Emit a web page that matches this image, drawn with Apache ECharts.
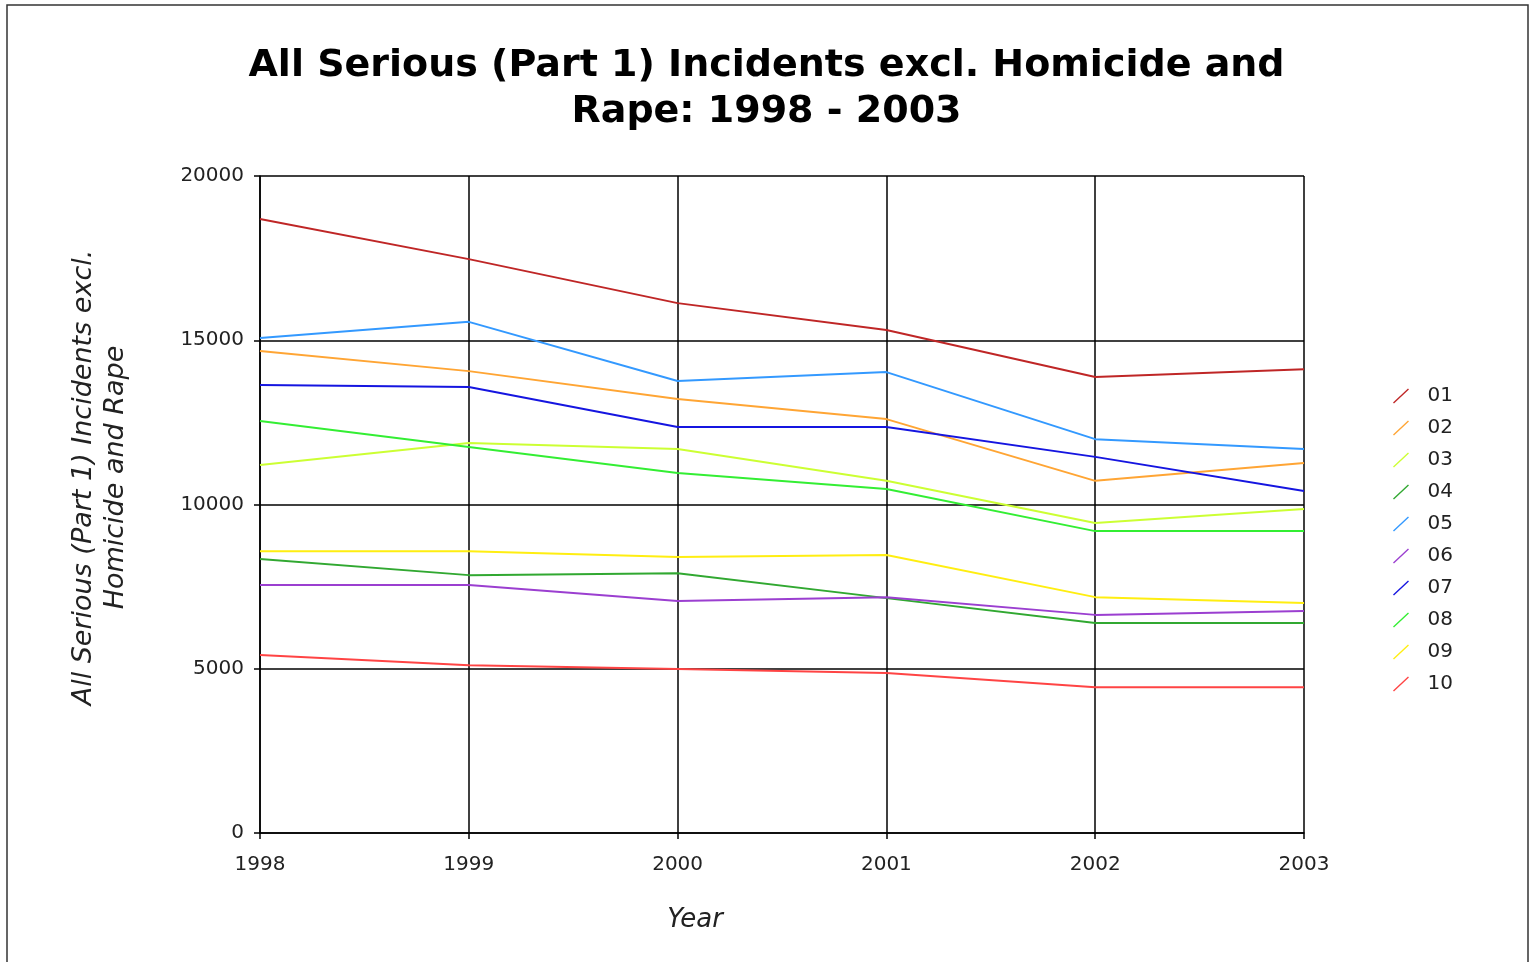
<!DOCTYPE html>
<html>
<head>
<meta charset="utf-8">
<title>All Serious (Part 1) Incidents excl. Homicide and Rape</title>
<script src="https://cdn.jsdelivr.net/npm/echarts@6/dist/echarts.min.js"></script>
<style>
  html, body { margin: 0; padding: 0; background: #fff; }
  #chart { width: 1533px; height: 962px; }
</style>
</head>
<body>
<div id="chart"></div>
<script>
// 年份（横轴）
const years = ['1998', '1999', '2000', '2001', '2002', '2003']
// 纵轴刻度
const yTicks = [0, 5000, 10000, 15000, 20000]

// 各区数据
const d01 = [18690, 17470, 16130, 15310, 13880, 14120]
const d02 = [14670, 14060, 13210, 12600, 10720, 11260]
const d03 = [11200, 11870, 11690, 10720, 9440, 9860]
const d04 = [8340, 7850, 7910, 7150, 6390, 6390]
const d05 = [15070, 15560, 13760, 14030, 11990, 11690]
const d06 = [7550, 7550, 7060, 7180, 6640, 6760]
const d07 = [13640, 13580, 12360, 12360, 11450, 10410]
const d08 = [12540, 11750, 10960, 10470, 9190, 9190]
const d09 = [8580, 8580, 8400, 8460, 7180, 7000]
const d10 = [5420, 5110, 4990, 4870, 4440, 4440]

const seriesNames = ['01', '02', '03', '04', '05', '06', '07', '08', '09', '10']
const seriesData = [d01, d02, d03, d04, d05, d06, d07, d08, d09, d10]
const seriesColors = ['#bf2626', '#ffa534', '#ccff33', '#31a831', '#3399ff',
  '#9b3fd0', '#1515e0', '#33ee33', '#ffee11', '#ff4444']

const chart = echarts.init(document.getElementById('chart'))

const option = {
  backgroundColor: '#fff',
  animation: false,
  title: {
    text: 'All Serious (Part 1) Incidents excl. Homicide and\nRape: 1998 - 2003',
    left: 'center',
    top: 38,
    textStyle: {
      fontFamily: 'DejaVu Sans',
      fontWeight: 'bold',
      fontSize: 38,
      lineHeight: 46,
      color: '#000'
    }
  },
  // 外框
  graphic: [
    {
      type: 'rect',
      shape: { x: 7, y: 5, width: 1521, height: 1000 },
      style: { fill: 'none', stroke: '#333', lineWidth: 1.5 },
      silent: true
    }
  ],
  legend: {
    orient: 'vertical',
    left: 1393,
    top: 386,
    padding: 0,
    itemWidth: 17,
    itemHeight: 15,
    itemGap: 12,
    // 细斜线图标
    icon: 'path://M0,15 L16,0 L17,1 L1,16 Z',
    textStyle: {
      fontFamily: 'DejaVu Sans',
      fontSize: 20,
      lineHeight: 18,
      color: '#222',
      padding: [0, 0, 0, 13]
    },
    data: seriesNames
  },
  grid: {
    left: 260,
    top: 176,
    right: 229,
    bottom: 129
  },
  xAxis: {
    type: 'category',
    data: years,
    boundaryGap: false,
    name: 'Year',
    nameLocation: 'middle',
    nameGap: 74,
    nameTextStyle: {
      fontFamily: 'DejaVu Sans',
      fontStyle: 'italic',
      fontSize: 26,
      color: '#222',
      padding: [0, 174, 0, 0]
    },
    axisLine: { lineStyle: { color: '#000', width: 1.5 } },
    axisTick: { show: true, length: 6, alignWithLabel: true, lineStyle: { color: '#000', width: 1.5 } },
    axisLabel: {
      margin: 22,
      fontFamily: 'DejaVu Sans',
      fontSize: 20,
      color: '#222'
    },
    splitLine: { show: true, lineStyle: { color: '#000', width: 1.5 } }
  },
  yAxis: {
    type: 'value',
    min: yTicks[0],
    max: yTicks[yTicks.length - 1],
    interval: 5000,
    name: 'All Serious (Part 1) Incidents excl.\nHomicide and Rape',
    nameLocation: 'middle',
    nameGap: 128,
    nameTextStyle: {
      fontFamily: 'DejaVu Sans',
      fontStyle: 'italic',
      fontSize: 27,
      lineHeight: 32,
      color: '#222',
      padding: [0, 0, 0, 54]
    },
    axisLine: { show: true, lineStyle: { color: '#000', width: 1.5 } },
    axisTick: { show: true, length: 6, lineStyle: { color: '#000', width: 1.5 } },
    axisLabel: {
      margin: 16,
      fontFamily: 'DejaVu Sans',
      fontSize: 20,
      color: '#222',
      formatter: (v) => String(v)
    },
    splitLine: { show: true, lineStyle: { color: '#000', width: 1.5 } }
  },
  series: seriesNames.map((name, i) => ({
    name: name,
    type: 'line',
    data: seriesData[i],
    color: seriesColors[i],
    symbol: 'none',
    lineStyle: { width: 2, color: seriesColors[i] }
  }))
}

chart.setOption(option)
</script>
</body>
</html>
